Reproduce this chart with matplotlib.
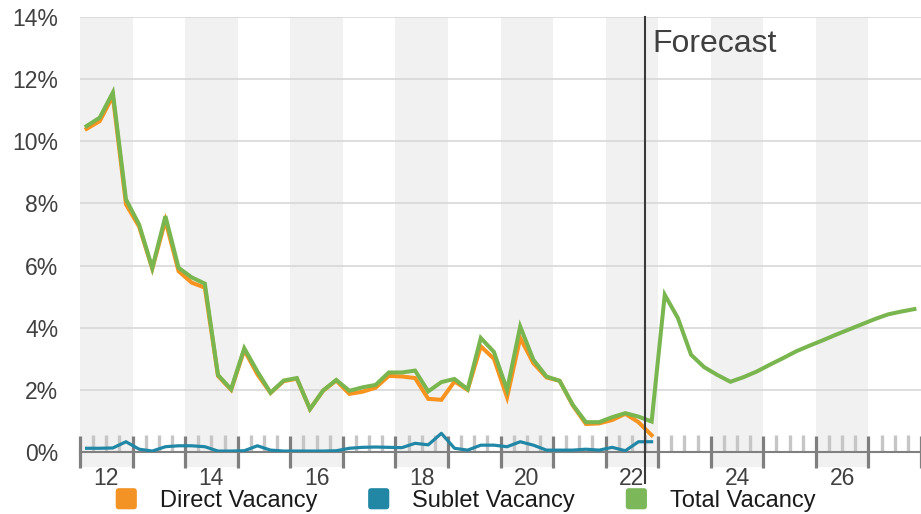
import numpy as np
import matplotlib
matplotlib.use("Agg")
import matplotlib.pyplot as plt
from matplotlib.patches import Patch, FancyBboxPatch
from matplotlib.legend_handler import HandlerPatch

plt.rcParams['font.family'] = ['Liberation Sans', 'DejaVu Sans']

# Quarterly series, Q1 2012 onwards (values in %)
start_year = 2012
direct = [10.40, 10.65, 11.45, 7.97,
          7.25, 5.90, 7.45, 5.82,
          5.45, 5.29, 2.45, 2.00,
          3.28, 2.50, 1.90, 2.28,
          2.36, 1.38, 1.97, 2.30,
          1.87, 1.94, 2.07, 2.45,
          2.43, 2.38, 1.71, 1.68,
          2.27, 2.00, 3.40, 3.00,
          1.76, 3.67, 2.86, 2.40,
          2.29, 1.50, 0.90, 0.92,
          1.03, 1.23, 0.96, 0.54]
sublet = [0.12, 0.12, 0.13, 0.33,
          0.09, 0.03, 0.17, 0.20,
          0.20, 0.17, 0.03, 0.03,
          0.04, 0.20, 0.06, 0.03,
          0.03, 0.03, 0.03, 0.04,
          0.12, 0.15, 0.16, 0.15,
          0.14, 0.28, 0.23, 0.60,
          0.12, 0.06, 0.22, 0.22,
          0.17, 0.33, 0.22, 0.06,
          0.06, 0.06, 0.09, 0.06,
          0.15, 0.04, 0.33, 0.33]
total = [10.49, 10.76, 11.57, 8.13,
         7.32, 5.92, 7.59, 5.93,
         5.62, 5.42, 2.48, 2.02,
         3.34, 2.59, 1.91, 2.30,
         2.38, 1.38, 1.98, 2.32,
         1.97, 2.08, 2.16, 2.56,
         2.56, 2.62, 1.95, 2.25,
         2.35, 2.02, 3.67, 3.22,
         2.00, 4.04, 2.97, 2.43,
         2.29, 1.52, 0.96, 0.96,
         1.12, 1.25, 1.14, 0.98,
         5.06, 4.31, 3.13, 2.73,   # forecast from here
         2.48, 2.26, 2.41, 2.59,
         2.81, 3.02, 3.24, 3.42,
         3.59, 3.77, 3.94, 4.11,
         4.28, 4.43, 4.52, 4.60]

series_names = ['Direct Vacancy', 'Sublet Vacancy', 'Total Vacancy']
series_colors = ['#F7931E', '#2187A6', '#7AB650']
legend_colors = ['#F39325', '#2287A4', '#7CB85A']
forecast_start = 2022.75
years = np.arange(2012, 2028)
y_ticks = np.arange(0, 15, 2)


def quarter_x(n):
    i = np.arange(n)
    return start_year + (i // 4) + ((i % 4) + 0.5) / 4


class RoundSquare(HandlerPatch):
    def create_artists(self, legend, orig_handle, xdescent, ydescent,
                       width, height, fontsize, trans):
        side = min(width, height)
        x0 = -xdescent + (width - side) / 2
        y0 = -ydescent + (height - side) / 2
        p = FancyBboxPatch((x0, y0), side, side,
                           boxstyle="round,pad=0,rounding_size=%f" % (side * 0.15),
                           facecolor=orig_handle.get_facecolor(),
                           edgecolor='none', transform=trans)
        return [p]


fig = plt.figure(figsize=(9.21, 5.14), dpi=100)
ax = fig.add_axes([80 / 921, 1 - 452 / 514, 841 / 921, 435 / 514])

# alternating year bands
for y in years:
    if y % 2 == 0:
        ax.axvspan(y, y + 1, ymin=-15 / 435, ymax=1, color='#f1f1f1',
                   lw=0, zorder=0, clip_on=False)

ax.plot(quarter_x(len(direct)), direct, color=series_colors[0], lw=2.9,
        solid_joinstyle='miter', zorder=2)
ax.plot(quarter_x(len(sublet)), sublet, color=series_colors[1], lw=2.3,
        zorder=2)
ax.plot(quarter_x(len(total)), total, color=series_colors[2], lw=2.9,
        solid_joinstyle='miter', zorder=3)

# forecast marker
ax.axvline(forecast_start, ymin=-31 / 435, ymax=1, color='#3a3a3a', lw=1.5,
           clip_on=False, zorder=4)
ax.annotate('Forecast', xy=(forecast_start, 14), xytext=(5, -8.5),
            textcoords='offset points', ha='left', va='top', fontsize=23,
            color='#404040')

ax.set_xlim(2012, 2028)
ax.set_ylim(0, 14)

# x axis: year boundaries as major ticks, quarters as minor ticks
ax.set_xticks(np.arange(2012, 2029), labels=[''] * 17)
minor_pos, minor_lab = [], []
for y in years:
    for k in (1, 2, 3):
        minor_pos.append(y + k / 4)
        minor_lab.append(str(y)[2:] if (k == 2 and y % 2 == 0) else '')
ax.set_xticks(minor_pos, labels=minor_lab, minor=True)
ax.tick_params(axis='x', which='major', direction='inout', length=22.5,
               width=2.3, color='#7f7f7f')
ax.tick_params(axis='x', which='minor', direction='in', length=12,
               width=2.4, color='#c6c6c6', labelsize=16.5, pad=11,
               labelcolor='#404040')

ax.set_yticks(y_ticks, labels=['%d%%' % v for v in y_ticks])
ax.tick_params(axis='y', length=0, pad=15.5, labelsize=16.5, labelcolor='#404040')
ax.yaxis.grid(True, color='#d5d5d5', lw=1.1)
ax.set_axisbelow('line')

for s in ('top', 'right', 'left'):
    ax.spines[s].set_visible(False)
ax.spines['bottom'].set_color('#808080')
ax.spines['bottom'].set_linewidth(1.5)
ax.spines['bottom'].set_zorder(1.6)

handles = [Patch(facecolor=c, label=n) for c, n in zip(legend_colors, series_names)]
fig.legend(handles=handles, handler_map={Patch: RoundSquare()}, loc='center',
           bbox_to_anchor=(465 / 921, 1 - 500 / 514), ncol=3, frameon=False,
           fontsize=17, handlelength=1.0, handleheight=1.0,
           handletextpad=0.92, columnspacing=2.1, borderpad=0,
           borderaxespad=0, labelcolor='#1a1a1a')

fig.savefig('out.png', dpi=100)
